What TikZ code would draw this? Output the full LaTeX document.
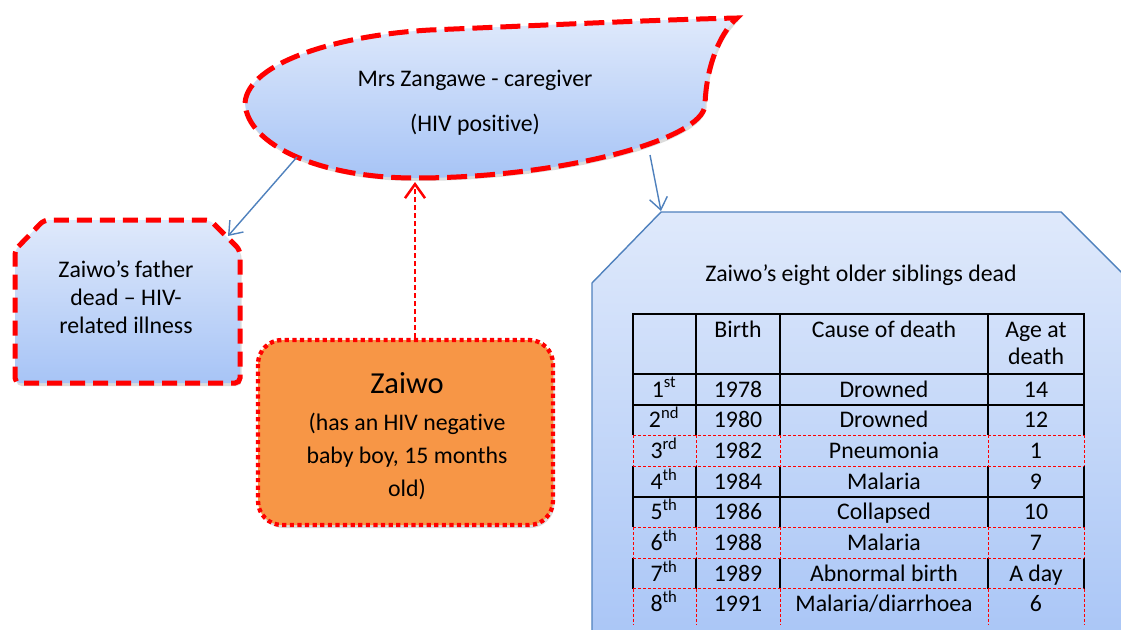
\documentclass[tikz,border=0pt]{standalone}
\usepackage{fontspec}
\setmainfont[Ligatures={NoCommon}]{Carlito}
\usetikzlibrary{arrows.meta,shadows}
\definecolor{lbtop}{HTML}{DFE9FB}
\definecolor{lbbot}{HTML}{A7C4F6}
\definecolor{orng}{HTML}{F79646}
\definecolor{blueline}{HTML}{4F81BD}
\definecolor{redline}{HTML}{FF0000}
\newcommand{\fsz}[2]{\fontsize{#1}{#2}\selectfont}
\begin{document}
\begin{tikzpicture}[x=1pt,y=-1pt,
  txt/.style={font=\fsz{23.8}{28}, anchor=base, inner sep=0pt},
  bigtxt/.style={font=\fsz{30.5}{36}, anchor=base, inner sep=0pt},
  shd/.style={drop shadow={opacity=.28, shadow xshift=1.5pt, shadow yshift=-3pt}},
  bluearrow/.style={draw=blueline, line width=1.4pt, -{Straight Barb[length=12pt,width=18pt,line width=1.4pt]}},
  redarrow/.style={draw=redline, line width=2.5pt, dash pattern=on 5pt off 3pt, -{Straight Barb[length=14pt,width=20pt,line width=2.5pt]}},
  blackrule/.style={draw=black, line width=2pt},
  redrule/.style={draw=redline, line width=0.9pt, dash pattern=on 3pt off 2pt}
]
\useasboundingbox (0,0) rectangle (1121,629);
\clip (0,0) rectangle (1121,629);
\fill[white] (0,0) rectangle (1121,629);

% siblings box
\draw[blueline, line width=1.4pt, top color=lbtop, bottom color=lbbot, shd]
  (592,283) -- (661,212) -- (1061,212) -- (1140,291) -- (1140,660) -- (592,660) -- cycle;
\coordinate (sibtop) at (661,211);
\node[txt] (sibtitle) at (861,281) {Zaiwo’s eight older siblings dead};

% table
\foreach \x in {633,696,780,988,1084}{
  \draw[blackrule] (\x,314) -- (\x,435.3);
  \draw[blackrule] (\x,466) -- (\x,527.3);
  \draw[blackrule] (\x,558) -- (\x,588.7);
  \draw[redrule] (\x,435.3) -- (\x,466);
  \draw[redrule] (\x,527.3) -- (\x,558);
  \draw[redrule] (\x,588.7) -- (\x,624);
}
\foreach \y in {314,374,404.7,496.7}{
  \draw[blackrule] (632,\y) -- (1085,\y);
}
\foreach \y in {435.3,466,527.3,558,588.7}{
  \draw[redrule] (633,\y) -- (1084,\y);
}
\node[txt] (hbirth) at (738,337) {Birth};
\node[txt] (hcause) at (884,337) {Cause of death};
\node[txt] (hage1) at (1036,337) {Age at};
\node[txt] (hage2) at (1036,364) {death};
\foreach \i/\s/\b/\c/\a in {1/st/1978/Drowned/14,2/nd/1980/Drowned/12,3/rd/1982/Pneumonia/1,4/th/1984/Malaria/9,5/th/1986/Collapsed/10,6/th/1988/Malaria/7,7/th/1989/Abnormal birth/A day,8/th/1991/Malaria\slash diarrhoea/6}{
  \pgfmathsetmacro{\yy}{374+(\i-1)*30.675+23}
  \node[txt] (ord\i) at (664,\yy) {\i\textsuperscript{\s}};
  \node[txt] (birth\i) at (738,\yy) {\b};
  \node[txt] (cause\i) at (884,\yy) {\c};
  \node[txt] (age\i) at (1036,\yy) {\a};
}

% father box
\draw[redline, line width=5pt, dash pattern=on 15pt off 8pt, rounded corners=5pt,
  top color=lbtop, bottom color=lbbot, shd]
  (15,250) -- (44,220) -- (210,220) -- (240,250) -- (240,383) -- (15,383) -- cycle;
\coordinate (fathertop) at (228,236);
\node[txt] (f1) at (126,277) {Zaiwo’s father};
\node[txt] (f2) at (126,305) {dead – HIV-};
\node[txt] (f3) at (126,333) {related illness};

% Zaiwo box
\draw[redline, line width=4.3pt, dash pattern=on 4.2pt off 3.4pt, fill=orng, rounded corners=24pt, shd]
  (258,340) rectangle (553,525);
\coordinate (zaiwotop) at (415,338);
\node[bigtxt] (z0) at (407,393) {Zaiwo};
\node[txt] (z1) at (407,430) {(has an HIV negative};
\node[txt] (z2) at (407,463) {baby boy, 15 months};
\node[txt] (z3) at (407,496) {old)};

% teardrop
\draw[redline, line width=5pt, dash pattern=on 20pt off 8pt,
  top color=lbtop, bottom color=lbbot, shd]
  (245,103) .. controls (248,62) and (340,35) .. (430,30)
  .. controls (550,25) and (650,20) .. (737,18)
  .. controls (718,35) and (706,70) .. (705,105)
  .. controls (703,140) and (560,178) .. (415,178)
  .. controls (320,178) and (247,145) .. (245,103) -- cycle;
\coordinate (mrsleft) at (297,157);
\coordinate (mrsright) at (650,155);
\coordinate (mrsbottom) at (415,182);
\node[txt] (mrs1) at (475,86) {Mrs Zangawe - caregiver};
\node[txt] (mrs2) at (475,131) {(HIV positive)};

% connectors
\draw[bluearrow] (mrsleft) -- (fathertop);
\draw[bluearrow] (mrsright) -- (sibtop);
\draw[redarrow] (zaiwotop) -- (mrsbottom);
\end{tikzpicture}
\end{document}
